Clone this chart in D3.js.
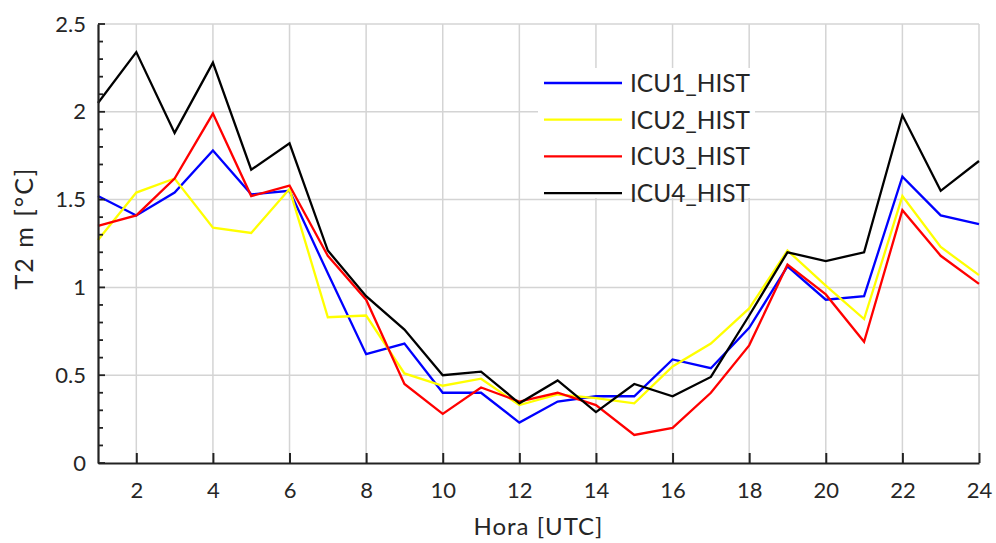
<!DOCTYPE html>
<html>
<head>
<meta charset="utf-8">
<script src="https://cdn.jsdelivr.net/npm/d3@7"></script>
<style>
  html, body { margin: 0; padding: 0; background: #fff; }
  svg { display: block; font-family: Lato, "Open Sans", sans-serif; }
</style>
</head>
<body>
<svg id="chart" width="996" height="543"></svg>
<script>
// Hourly 2 m temperature difference per ICU configuration
const hours = d3.range(1, 25);
const icu1 = [1.52, 1.41, 1.54, 1.78, 1.53, 1.55, 1.08, 0.62, 0.68, 0.40, 0.40, 0.23, 0.35, 0.38, 0.38, 0.59, 0.54, 0.77, 1.12, 0.93, 0.95, 1.63, 1.41, 1.36];
const icu2 = [1.27, 1.54, 1.62, 1.34, 1.31, 1.56, 0.83, 0.84, 0.51, 0.44, 0.48, 0.33, 0.39, 0.37, 0.34, 0.55, 0.68, 0.88, 1.21, 1.01, 0.82, 1.52, 1.23, 1.07];
const icu3 = [1.35, 1.41, 1.62, 1.99, 1.52, 1.58, 1.18, 0.93, 0.45, 0.28, 0.43, 0.35, 0.40, 0.33, 0.16, 0.20, 0.40, 0.67, 1.13, 0.96, 0.69, 1.44, 1.18, 1.02];
const icu4 = [2.05, 2.34, 1.88, 2.28, 1.67, 1.82, 1.21, 0.95, 0.76, 0.50, 0.52, 0.34, 0.47, 0.29, 0.45, 0.38, 0.49, 0.84, 1.20, 1.15, 1.20, 1.98, 1.55, 1.72];
const seriesNames = ["ICU1_HIST", "ICU2_HIST", "ICU3_HIST", "ICU4_HIST"];
const seriesColors = ["#0000ff", "#ffff00", "#ff0000", "#000000"];
const xTicks = d3.range(2, 25, 2);
const yTicks = [0, 0.5, 1, 1.5, 2, 2.5];
const yMinorTicks = d3.range(0, 26).map(d => d / 10);

const series = [icu1, icu2, icu3, icu4].map((vals, i) => ({
  name: seriesNames[i], color: seriesColors[i], values: vals
}));

const svg = d3.select("#chart");
const plotLeft = 98, plotRight = 979, plotTop = 24, plotBottom = 463;
const textColor = "#262626";

const x = d3.scaleLinear().domain([1, 24]).range([plotLeft, plotRight]);
const y = d3.scaleLinear().domain([0, 2.5]).range([plotBottom, plotTop]);

// grid
const grid = svg.append("g").attr("stroke", "#d4d4d4").attr("stroke-width", 1.5);
grid.selectAll("line.v").data(xTicks).join("line")
  .attr("class", "v")
  .attr("x1", d => x(d)).attr("x2", d => x(d))
  .attr("y1", plotTop).attr("y2", plotBottom);
grid.selectAll("line.h").data(yTicks.filter(d => d > 0)).join("line")
  .attr("class", "h")
  .attr("x1", plotLeft).attr("x2", plotRight)
  .attr("y1", d => y(d)).attr("y2", d => y(d));

// data lines
const line = d3.line().x((d, i) => x(hours[i])).y(d => y(d));
svg.append("g").selectAll("path").data(series).join("path")
  .attr("fill", "none")
  .attr("stroke", d => d.color)
  .attr("stroke-width", 2.3)
  .attr("stroke-linejoin", "miter")
  .attr("d", d => line(d.values));

// axes
const xAxis = d3.axisBottom(x).tickValues(xTicks).tickSizeInner(-10).tickSizeOuter(0).tickPadding(19);
const gx = svg.append("g").attr("transform", `translate(0,${plotBottom})`).call(xAxis);
gx.select(".domain").attr("stroke-width", 2.2).attr("stroke", "#222");
gx.selectAll(".tick line").attr("stroke-width", 2).attr("stroke", "#222");
gx.selectAll(".tick text").attr("font-size", 22).attr("font-family", "Lato, sans-serif").attr("fill", textColor);

// y minor ticks
svg.append("g").selectAll("line").data(yMinorTicks).join("line")
  .attr("x1", plotLeft).attr("x2", d => plotLeft + (Math.abs(d * 2 - Math.round(d * 2)) < 1e-6 ? 7 : 5))
  .attr("y1", d => y(d)).attr("y2", d => y(d))
  .attr("stroke", "#222").attr("stroke-width", 1.8);

const yAxis = d3.axisLeft(y).tickValues(yTicks).tickFormat(d3.format("~g")).tickSize(0).tickPadding(12);
const gy = svg.append("g").attr("transform", `translate(${plotLeft},0)`).call(yAxis);
gy.select(".domain").attr("stroke-width", 2.2).attr("stroke", "#222");
gy.selectAll(".tick text").attr("font-size", 22).attr("font-family", "Lato, sans-serif").attr("fill", textColor);

// axis titles
svg.append("text")
  .attr("x", (plotLeft + plotRight) / 2).attr("y", 535)
  .attr("text-anchor", "middle").attr("font-size", 24).attr("letter-spacing", 1)
  .attr("fill", textColor)
  .text("Hora [UTC]");
svg.append("text")
  .attr("transform", `translate(33,228) rotate(-90)`)
  .attr("text-anchor", "middle").attr("font-size", 25).attr("letter-spacing", 2)
  .attr("fill", textColor)
  .text("T2 m [°C]");

// legend
const lg = svg.append("g");
lg.append("rect").attr("x", 538).attr("y", 68).attr("width", 217).attr("height", 130).attr("fill", "#fff");
const rows = lg.selectAll("g").data(series).join("g")
  .attr("transform", (d, i) => `translate(544,${83 + i * 36.7})`);
rows.append("line").attr("x1", 0).attr("x2", 78)
  .attr("stroke", d => d.color).attr("stroke-width", 2.3);
rows.append("text").attr("x", 86).attr("dy", "0.36em")
  .attr("font-size", 24.5).attr("fill", textColor)
  .text(d => d.name);
</script>
</body>
</html>
